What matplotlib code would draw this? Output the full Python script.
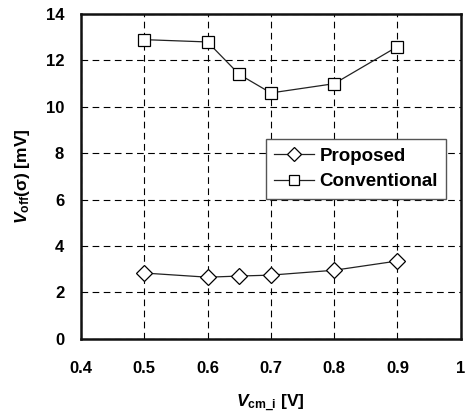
import matplotlib
matplotlib.use('Agg')
import matplotlib.pyplot as plt

plt.rcParams['font.family'] = ['Liberation Sans', 'DejaVu Sans']
plt.rcParams['font.weight'] = 'bold'
plt.rcParams['mathtext.fontset'] = 'custom'
plt.rcParams['mathtext.rm'] = 'Liberation Sans:bold'
plt.rcParams['mathtext.it'] = 'Liberation Sans:italic:bold'
plt.rcParams['mathtext.bf'] = 'Liberation Sans:bold'

vcm = [0.5, 0.6, 0.65, 0.7, 0.8, 0.9]
proposed = [2.83, 2.65, 2.70, 2.74, 2.95, 3.35]
conventional = [12.9, 12.8, 11.4, 10.6, 11.0, 12.6]

xticks = [0.4, 0.5, 0.6, 0.7, 0.8, 0.9, 1.0]
xticklabels = ['0.4', '0.5', '0.6', '0.7', '0.8', '0.9', '1']
yticks = [0, 2, 4, 6, 8, 10, 12, 14]

fig = plt.figure(figsize=(4.65, 4.16), dpi=100)
ax = fig.add_axes([0.174, 0.186, 0.817, 0.780])

ax.plot(vcm, proposed, color='#222222', lw=0.9, marker='D', ms=7.8,
        mfc='white', mec='black', mew=0.9, label='Proposed', zorder=3)
ax.plot(vcm, conventional, color='#222222', lw=0.9, marker='s', ms=9,
        mfc='white', mec='black', mew=0.9, label='Conventional', zorder=3)

ax.set_xlim(0.4, 1.0)
ax.set_ylim(0, 14)
ax.set_xticks(xticks)
ax.set_xticklabels(xticklabels)
ax.set_yticks(yticks)
ax.tick_params(length=0, labelsize=12)
ax.tick_params(axis='x', pad=16)
ax.tick_params(axis='y', pad=12)
for lab in ax.get_xticklabels() + ax.get_yticklabels():
    lab.set_fontweight('bold')

ax.grid(True, color='black', ls=(0, (6, 4)), lw=0.8)
for s in ax.spines.values():
    s.set_linewidth(1.8)
    s.set_color('#111111')

ax.set_xlabel(r'$V_{\mathrm{cm\_i}}$ [V]', fontsize=12.5, fontweight='bold', labelpad=12)
ax.set_ylabel(r'$V_{\mathrm{off}}$(σ) [mV]', fontsize=12.5, fontweight='bold', labelpad=10)

leg = ax.legend(loc='upper right', bbox_to_anchor=(0.962, 0.615), fontsize=13.5,
                handlelength=2.1, handletextpad=0.3, fancybox=False, markerscale=0.85,
                borderpad=0.45, borderaxespad=0, labelspacing=0.45, framealpha=1)
leg.get_frame().set_edgecolor('#555555')
leg.get_frame().set_linewidth(1.0)
for t in leg.get_texts():
    t.set_fontweight('bold')

fig.savefig('out.png', dpi=100)
